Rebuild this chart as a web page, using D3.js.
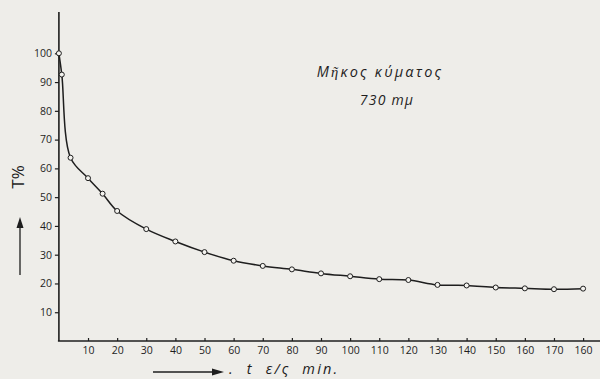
<!DOCTYPE html>
<html>
<head>
<meta charset="utf-8">
<script src="https://cdn.jsdelivr.net/npm/d3@7"></script>
<style>
  html, body { margin: 0; padding: 0; background: #eeede9; }
  svg { display: block; }
</style>
</head>
<body>
<svg id="chart" width="600" height="379"></svg>
<script>
// Transmittance T% of the solution over time, wavelength 730 mμ
const times = [0, 1, 4, 10, 15, 20, 30, 40, 50, 60, 70, 80, 90, 100, 110, 120, 130, 140, 150, 160, 170, 180];
const transmittance = [100, 92.6, 63.7, 56.6, 51.2, 45.2, 38.9, 34.6, 30.9, 27.9, 26.1, 24.9, 23.5, 22.5, 21.5, 21.2, 19.5, 19.3, 18.6, 18.3, 18.0, 18.2];

const xTicks = [10, 20, 30, 40, 50, 60, 70, 80, 90, 100, 110, 120, 130, 140, 150, 160, 170, 180];
const xTickLabels = ["10", "20", "30", "40", "50", "60", "70", "80", "90", "100", "110", "120", "130", "140", "150", "160", "170", "160"];
const yTicks = [10, 20, 30, 40, 50, 60, 70, 80, 90, 100];
const yTickLabels = ["10", "20", "30", "40", "50", "60", "70", "80", "90", "100"];

const ink = "#1e1e1e";
const svg = d3.select("#chart");

const x = d3.scaleLinear().domain([0, 180]).range([58.9, 583.1]);
const y = d3.scaleLinear().domain([0, 100]).range([341, 53.3]);

// axis lines
svg.append("line")
  .attr("x1", x(0)).attr("x2", x(0))
  .attr("y1", 12).attr("y2", y(0))
  .attr("stroke", ink).attr("stroke-width", 1.6);
svg.append("line")
  .attr("x1", x(0) - 1).attr("x2", 600)
  .attr("y1", y(0)).attr("y2", y(0))
  .attr("stroke", ink).attr("stroke-width", 1.6);

// x axis: short ticks pointing up into the plot
const xAxis = d3.axisBottom(x)
  .tickValues(xTicks)
  .tickFormat((d, i) => xTickLabels[i])
  .tickSizeInner(-3)
  .tickSizeOuter(0)
  .tickPadding(6);
const gx = svg.append("g").attr("transform", `translate(0,${y(0)})`).call(xAxis);
gx.select(".domain").remove();
gx.selectAll(".tick line").attr("stroke", ink).attr("stroke-width", 1.2);
gx.selectAll(".tick text")
  .attr("fill", ink)
  .attr("font-family", "Open Sans")
  .attr("font-size", 10.5);

// y axis: short ticks to the left
const yAxis = d3.axisLeft(y)
  .tickValues(yTicks)
  .tickFormat((d, i) => yTickLabels[i])
  .tickSizeInner(4)
  .tickSizeOuter(0)
  .tickPadding(3);
const gy = svg.append("g").attr("transform", `translate(${x(0)},0)`).call(yAxis);
gy.select(".domain").remove();
gy.selectAll(".tick line").attr("stroke", ink).attr("stroke-width", 1.2);
gy.selectAll(".tick text")
  .attr("fill", ink)
  .attr("font-family", "Open Sans")
  .attr("font-size", 10.5);

// smooth curve through the measurements
const line = d3.line()
  .x((d, i) => x(times[i]))
  .y(d => y(d))
  .curve(d3.curveCatmullRom.alpha(0.5));
svg.append("path")
  .datum(transmittance)
  .attr("d", line)
  .attr("fill", "none")
  .attr("stroke", ink)
  .attr("stroke-width", 1.5);

// measured points
svg.append("g")
  .selectAll("circle")
  .data(transmittance)
  .join("circle")
  .attr("cx", (d, i) => x(times[i]))
  .attr("cy", d => y(d))
  .attr("r", 2.5)
  .attr("fill", "#f4f3ef")
  .attr("stroke", ink)
  .attr("stroke-width", 1);

// annotation
svg.append("text")
  .attr("x", 380).attr("y", 77)
  .attr("text-anchor", "middle")
  .attr("font-family", "Open Sans")
  .attr("font-style", "italic")
  .attr("font-size", 14.5)
  .attr("letter-spacing", 2.2)
  .attr("fill", ink)
  .text("Μῆκος κύματος");
svg.append("text")
  .attr("x", 387).attr("y", 105)
  .attr("text-anchor", "middle")
  .attr("font-family", "Open Sans")
  .attr("font-style", "italic")
  .attr("font-size", 14)
  .attr("letter-spacing", 1.2)
  .attr("fill", ink)
  .text("730 mμ");

// y-axis title with upward arrow
svg.append("text")
  .attr("transform", "translate(24,177) rotate(-90)")
  .attr("text-anchor", "middle")
  .attr("font-family", "Open Sans")
  .attr("font-size", 17)
  .attr("fill", ink)
  .text("T%");
svg.append("line")
  .attr("x1", 20).attr("x2", 20).attr("y1", 275).attr("y2", 226)
  .attr("stroke", ink).attr("stroke-width", 1.3);
svg.append("path")
  .attr("d", "M20,217 L16.5,228 L23.5,228 Z")
  .attr("fill", ink);

// x-axis title with rightward arrow
svg.append("line")
  .attr("x1", 153).attr("x2", 214).attr("y1", 372).attr("y2", 372)
  .attr("stroke", ink).attr("stroke-width", 1.3);
svg.append("path")
  .attr("d", "M224,372 L212,368.5 L212,375.5 Z")
  .attr("fill", ink);
svg.append("text")
  .attr("x", 229).attr("y", 374)
  .attr("font-family", "Open Sans")
  .attr("font-style", "italic")
  .attr("font-size", 14.5)
  .attr("letter-spacing", 2.2)
  .attr("fill", ink)
  .attr("xml:space", "preserve")
  .text(".  t  ε/ς  min.");
</script>
</body>
</html>
